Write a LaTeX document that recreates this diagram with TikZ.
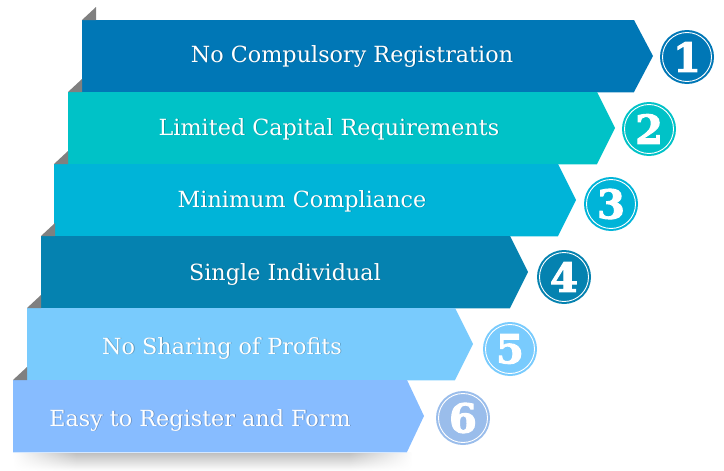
\documentclass[tikz,border=0pt]{standalone}
\usepackage{fontspec}
\setmainfont{DejaVu Serif}
\newfontfamily\numfont[FakeBold=2.5]{DejaVu Serif Bold}
\usetikzlibrary{shadings,fadings}
\definecolor{bandA}{HTML}{0077B6}
\definecolor{bandB}{HTML}{00C2C7}
\definecolor{bandC}{HTML}{00B4D8}
\definecolor{bandD}{HTML}{0582B0}
\definecolor{bandE}{HTML}{79CBFD}
\definecolor{bandF}{HTML}{87BCFF}
\definecolor{circF}{HTML}{9ABDEB}
\definecolor{foldgray}{HTML}{808080}
\pgfdeclarehorizontalshading{sideshade}{100bp}{color(0bp)=(pgftransparent!100); color(25bp)=(pgftransparent!100); color(33bp)=(pgftransparent!0); color(67bp)=(pgftransparent!0); color(75bp)=(pgftransparent!100); color(100bp)=(pgftransparent!100)}
\pgfdeclarefading{sidefade}{\pgfuseshading{sideshade}}
\tikzset{
  bandlabel/.style={anchor=base, text=white, font=\fontsize{22.3}{23}\selectfont},
  labelshadow/.style={anchor=base, text=black, opacity=0.25, font=\fontsize{22.3}{23}\selectfont},
  numcirc/.style={circle, minimum size=54pt, inner sep=0pt, text=white,
    font=\numfont\fontsize{40}{40}\selectfont},
  ring/.style={draw=white, line width=0.9pt},
  fold/.style={fill=foldgray},
}
\newcommand{\bandshape}[6]{% L, T, B, corner, tip, color
  \fill[#6] (#1,#2) -- (#4,#2) -- (#5,{(#2+#3)/2}) -- (#4,#3) -- (#1,#3) -- cycle;
  \draw[white!65!#6, line width=0.8pt] (#1,#3) -- (#4,#3);
  \fill[fold] (#1,#2) -- ({#1+14},{#2-13}) -- ({#1+14},#2) -- cycle;
}
\newcommand{\bandtext}[4]{% name, x, baseline, text
  \node[labelshadow] at ({#2+0.8},{#3+0.8}) {#4};
  \node[bandlabel] (#1) at (#2,#3) {#4};
}
\begin{document}
\begin{tikzpicture}[x=1pt,y=-1pt]
\useasboundingbox (0,0) rectangle (724,471);
% shadow
\shade[top color=black!26, bottom color=white, path fading=sidefade] (13,452) rectangle (412,471);
% bands
\bandshape{82}{20}{92}{634}{653}{bandA}
\bandshape{68}{92}{164}{597}{615}{bandB}
\bandshape{54}{164}{236}{558}{576}{bandC}
\bandshape{41}{236}{308}{510}{528}{bandD}
\bandshape{27}{308}{380}{455}{473}{bandE}
\bandshape{13}{380}{452}{407}{424}{bandF}
% labels
\bandtext{t1}{352}{62}{No Compulsory Registration}
\bandtext{t2}{329}{135}{Limited Capital Requirements}
\bandtext{t3}{302}{207}{Minimum Compliance}
\bandtext{t4}{285}{280}{Single Individual}
\bandtext{t5}{222}{354}{No Sharing of Profits}
\bandtext{t6}{200}{426}{Easy to Register and Form}
% number circles
\node[numcirc, fill=bandA] (c1) at (687,57) {1};
\node[numcirc, fill=bandB] (c2) at (649,129) {2};
\node[numcirc, fill=bandC] (c3) at (611,204) {3};
\node[numcirc, fill=bandD] (c4) at (564,277) {4};
\node[numcirc, fill=bandE] (c5) at (510,349) {5};
\node[numcirc, fill=circF] (c6) at (463,418) {6};
\foreach \c in {c1,c2,c3,c4,c5,c6}
  \draw[ring] (\c.center) circle (24.5pt);
\end{tikzpicture}
\end{document}
